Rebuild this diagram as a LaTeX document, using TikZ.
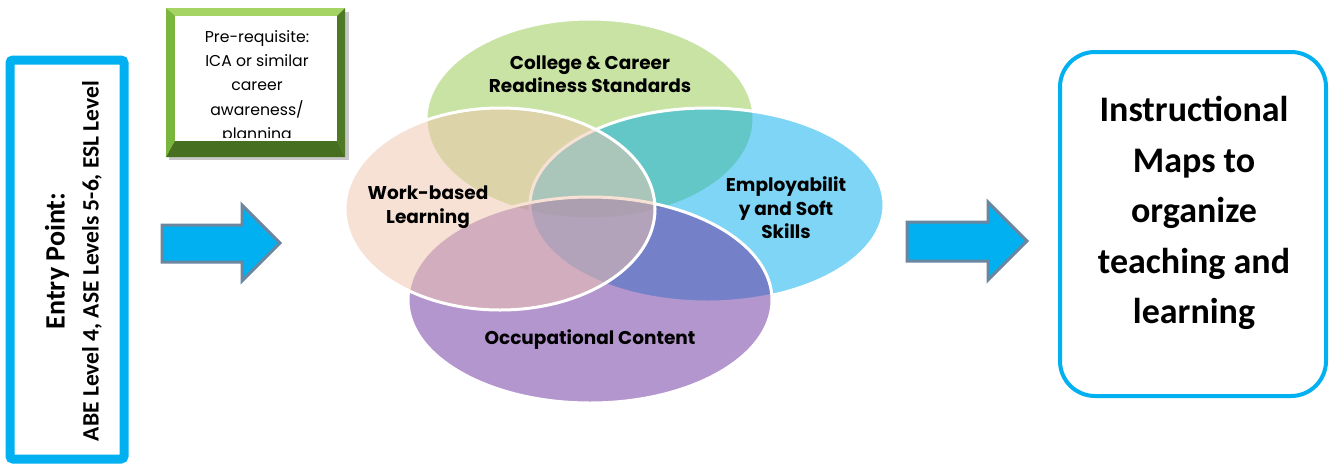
\documentclass[tikz,border=0pt]{standalone}
\usepackage{fontspec}
\setmainfont{Carlito}
\newfontfamily\gothic{Poppins}
\usetikzlibrary{shapes.geometric}
\definecolor{vgreen}{RGB}{147,201,75}
\definecolor{vpeach}{RGB}{241,197,173}
\definecolor{vblue}{RGB}{0,173,237}
\definecolor{vpurple}{RGB}{107,47,159}
\definecolor{cyanb}{RGB}{0,176,240}
\definecolor{arrowline}{RGB}{107,135,160}
\definecolor{bevlight}{RGB}{165,212,100}
\definecolor{bevmid}{RGB}{122,182,62}
\definecolor{bevdark}{RGB}{78,122,38}
\definecolor{bevdarker}{RGB}{70,112,32}
\tikzset{
  vennset/.style={ellipse, draw=white, line width=3pt, fill opacity=0.5, inner sep=0pt},
  venntext/.style={font=\gothic\bfseries\fontsize{18.5}{23.5}\selectfont, align=center, text=black},
  blockarrow/.style={fill=cyanb, draw=arrowline, line width=3pt, line join=miter},
}
\begin{document}
\begin{tikzpicture}[x=1pt,y=-1pt]
\useasboundingbox[fill=white] (0,0) rectangle (1330,464);

% Entry box
\node[draw=cyanb, line width=9pt, rounded corners=3pt, minimum width=114pt, minimum height=399pt, inner sep=0pt] (entry) at (67,259.5) {};
\node[rotate=90, font=\bfseries\fontsize{28}{30}\selectfont] (entryt) at (57,261) {Entry Point:};
\node[rotate=90, font=\bfseries\fontsize{23.5}{26}\selectfont] (entrys) at (92,261) {ABE Level 4, ASE Levels 5-6, ESL Level};

% Pre-requisite bevel box
\fill[black!22] (169,12) rectangle (349,160);
\fill[bevlight] (166,8) -- (345,8) -- (337,16) -- (175,16) -- cycle;
\fill[bevmid] (166,8) -- (175,16) -- (175,141) -- (166,157) -- cycle;
\fill[bevdark] (345,8) -- (345,157) -- (337,141) -- (337,16) -- cycle;
\fill[bevdarker] (166,157) -- (175,141) -- (337,141) -- (345,157) -- cycle;
\node[fill=white, minimum width=162pt, minimum height=125pt, inner sep=0pt] (prebox) at (256,78.5) {};
\begin{scope}
\clip (175,16) rectangle (337,137.5);
\node[font=\gothic\fontsize{15.7}{24.3}\selectfont, align=center] (pretext) at (257,87) {Pre-requisite:\\ICA or similar\\career\\awareness/\\planning};
\end{scope}

% Arrows
\draw[blockarrow] (162,225) -- (242,225) -- (242,205) -- (280,243) -- (242,281) -- (242,262) -- (162,262) -- cycle;
\draw[blockarrow] (907,222) -- (988,222) -- (988,202) -- (1027,241) -- (988,280) -- (988,261) -- (907,261) -- cycle;

% Venn
\node[vennset, fill=vgreen, minimum width=328pt, minimum height=200pt] (college) at (590,119) {};
\node[vennset, fill=vblue, minimum width=354pt, minimum height=194pt] (employ) at (707,205) {};
\node[vennset, fill=vpurple, minimum width=364pt, minimum height=206pt] (occup) at (590,300) {};
\node[vennset, fill=vpeach, minimum width=310pt, minimum height=202pt] (work) at (500,209) {};

\node[venntext] (colleget) at (590,74) {College \& Career\\Readiness Standards};
\node[venntext] (workt) at (428,207) {Work-based\\Learning};
\node[venntext] (employt) at (786,208) {Employabilit\\y and Soft\\Skills};
\node[venntext] (occupt) at (590,340) {Occupational Content};

% Right box
\node[draw=cyanb, line width=4pt, rounded corners=35pt, minimum width=266pt, minimum height=344pt, inner sep=0pt] (maps) at (1193,224) {};
\node[font=\bfseries\fontsize{36}{50.5}\selectfont, align=center] (mapst) at (1194,213) {Instructional\\Maps to\\organize\\teaching and\\learning};
\end{tikzpicture}
\end{document}
